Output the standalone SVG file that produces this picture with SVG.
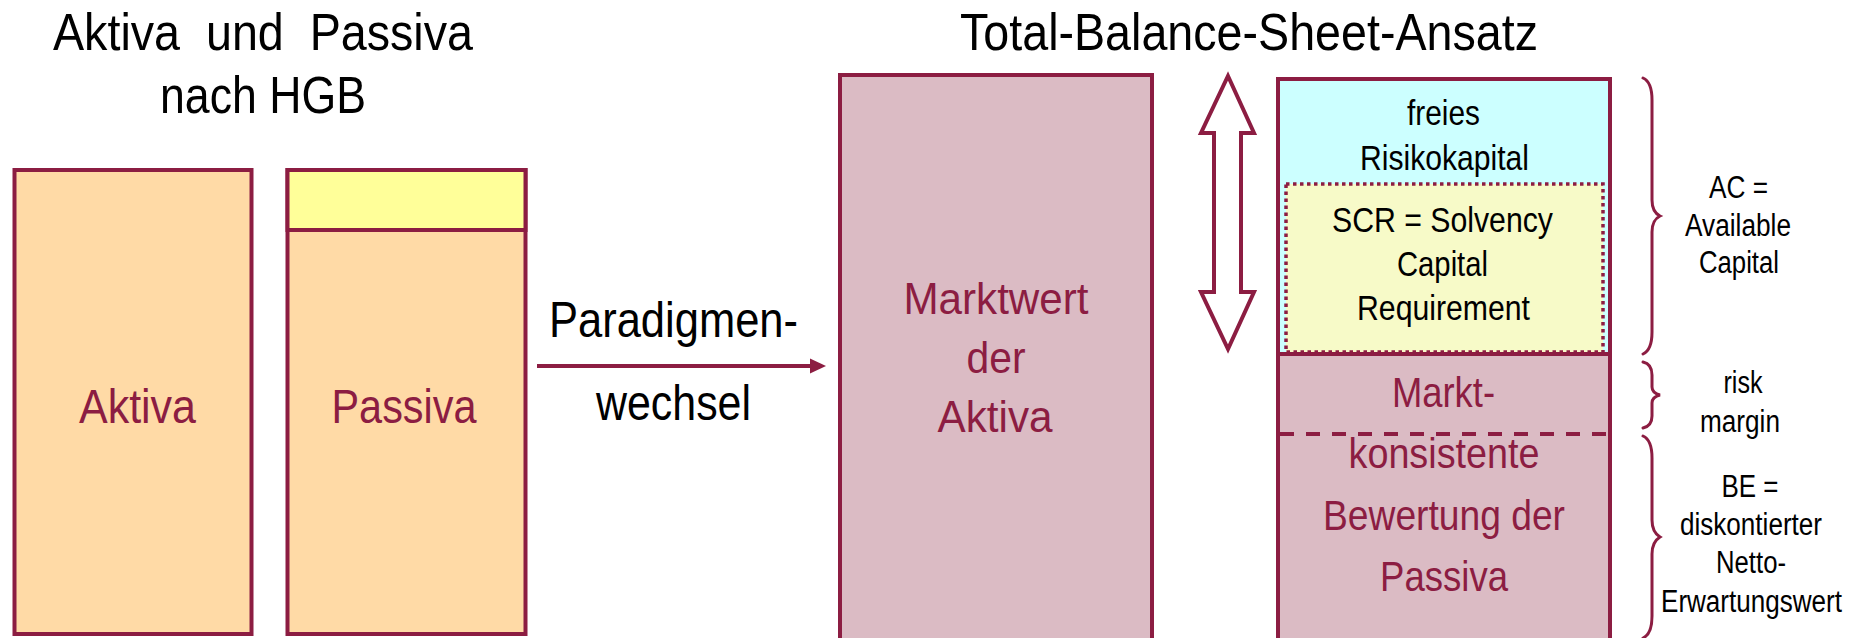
<svg xmlns="http://www.w3.org/2000/svg" width="1859" height="638" viewBox="0 0 1859 638">
<style>
text{font-family:"Liberation Sans Narrow","Liberation Sans",Arial,sans-serif;text-anchor:middle}
.t{fill:#000;font-size:52px}
.lbl{fill:#8C1D42;font-size:49px}
.mw{fill:#8C1D42;font-size:45px}
.mk{fill:#8C1D42;font-size:43px}
.s{fill:#000;font-size:35px}
.side{fill:#000;font-size:31px}
.box{stroke:#8C1D42;stroke-width:4}
.br{fill:none;stroke:#8C1D42;stroke-width:3;stroke-linecap:round}
</style>
<g id="titles">
<text class="t" x="263" y="50" textLength="420" lengthAdjust="spacingAndGlyphs" style="white-space:pre" xml:space="preserve">Aktiva  und  Passiva</text>
<text class="t" x="263" y="113" textLength="206" lengthAdjust="spacingAndGlyphs">nach HGB</text>
<text class="t" x="1249" y="50" textLength="578" lengthAdjust="spacingAndGlyphs">Total-Balance-Sheet-Ansatz</text>
</g>
<g id="aktiva">
<rect class="box" x="14.5" y="170" width="237" height="464" fill="#FFDAA6"/>
<text class="lbl" x="137.5" y="423" textLength="117" lengthAdjust="spacingAndGlyphs">Aktiva</text>
</g>
<g id="passiva">
<rect class="box" x="287.5" y="170" width="238" height="464" fill="#FFDAA6"/>
<rect class="box" x="287.5" y="170" width="238" height="60" fill="#FFFF99"/>
<text class="lbl" x="404" y="423" textLength="145" lengthAdjust="spacingAndGlyphs">Passiva</text>
</g>
<g id="connectors">
<line x1="537" y1="366" x2="812" y2="366" stroke="#8C1D42" stroke-width="4"/>
<polygon points="810,358.5 826,366 810,373.5" fill="#8C1D42"/>
<text class="t" x="673.5" y="337" textLength="249" lengthAdjust="spacingAndGlyphs" style="font-size:50px">Paradigmen-</text>
<text class="t" x="673.5" y="420" textLength="155" lengthAdjust="spacingAndGlyphs" style="font-size:50px">wechsel</text>
</g>
<g id="marktwert">
<rect class="box" x="840" y="75" width="312" height="575" fill="#DBBBC4"/>
<text class="mw" x="996" y="314" textLength="185" lengthAdjust="spacingAndGlyphs">Marktwert</text>
<text class="mw" x="996" y="373" textLength="59" lengthAdjust="spacingAndGlyphs">der</text>
<text class="mw" x="995" y="432" textLength="115" lengthAdjust="spacingAndGlyphs">Aktiva</text>
</g>
<g id="double-arrow">
<polygon points="1228,76 1254,133 1241,133 1241,292 1254,292 1228,349 1201,292 1214,292 1214,133 1201,133" fill="#FFFFFF" stroke="#8C1D42" stroke-width="4" stroke-linejoin="miter"/>
</g>
<g id="passiva-markt">
<rect class="box" x="1278" y="79" width="332" height="575" fill="#DBBBC4"/>
<line x1="1280" y1="434" x2="1608" y2="434" stroke="#8C1D42" stroke-width="4" stroke-dasharray="14 12"/>
<text class="mk" x="1443.5" y="407" textLength="103" lengthAdjust="spacingAndGlyphs">Markt-</text>
<text class="mk" x="1444" y="468" textLength="191" lengthAdjust="spacingAndGlyphs">konsistente</text>
<text class="mk" x="1444" y="530" textLength="242" lengthAdjust="spacingAndGlyphs">Bewertung der</text>
<text class="mk" x="1444" y="591" textLength="128" lengthAdjust="spacingAndGlyphs">Passiva</text>
</g>
<g id="freies-risikokapital">
<rect class="box" x="1278" y="79" width="332" height="275" fill="#CCFFFF"/>
<text class="s" x="1443.5" y="125" textLength="73" lengthAdjust="spacingAndGlyphs">freies</text>
<text class="s" x="1444.5" y="170" textLength="169" lengthAdjust="spacingAndGlyphs">Risikokapital</text>
</g>
<g id="scr">
<rect x="1286" y="184" width="317" height="168" fill="#F7FAC8" stroke="#8C1D42" stroke-width="3.5" stroke-dasharray="3.5 3.5"/>
<line x1="1276" y1="354" x2="1612" y2="354" stroke="#8C1D42" stroke-width="4"/>
<text class="s" x="1442.5" y="232" textLength="221" lengthAdjust="spacingAndGlyphs">SCR = Solvency</text>
<text class="s" x="1442.5" y="276" textLength="91" lengthAdjust="spacingAndGlyphs">Capital</text>
<text class="s" x="1443.5" y="320" textLength="173" lengthAdjust="spacingAndGlyphs">Requirement</text>
</g>
<g id="braces">
<path class="br" d="M1643,78 Q1652,82 1652,100 L1652,200 Q1652,212 1660,216 Q1652,220 1652,232 L1652,332 Q1652,350 1643,354"/>
<path class="br" d="M1643,362 Q1652,364 1652,375 L1652,387 Q1652,393 1660,395 Q1652,397 1652,403 L1652,416 Q1652,426 1643,428"/>
<path class="br" d="M1643,436 Q1652,440 1652,458 L1652,520 Q1652,532 1660,537 Q1652,542 1652,554 L1652,616 Q1652,634 1643,638"/>
</g>
<g id="side-labels">
<text class="side" x="1738.5" y="198" textLength="59" lengthAdjust="spacingAndGlyphs">AC =</text>
<text class="side" x="1738" y="236" textLength="106" lengthAdjust="spacingAndGlyphs">Available</text>
<text class="side" x="1739" y="273" textLength="80" lengthAdjust="spacingAndGlyphs">Capital</text>
<text class="side" x="1743" y="393" textLength="39" lengthAdjust="spacingAndGlyphs">risk</text>
<text class="side" x="1740" y="432" textLength="80" lengthAdjust="spacingAndGlyphs">margin</text>
<text class="side" x="1750" y="497" textLength="57" lengthAdjust="spacingAndGlyphs">BE =</text>
<text class="side" x="1751" y="535" textLength="142" lengthAdjust="spacingAndGlyphs">diskontierter</text>
<text class="side" x="1751" y="573" textLength="70" lengthAdjust="spacingAndGlyphs">Netto-</text>
<text class="side" x="1751.5" y="612" textLength="181" lengthAdjust="spacingAndGlyphs">Erwartungswert</text>
</g>
</svg>
